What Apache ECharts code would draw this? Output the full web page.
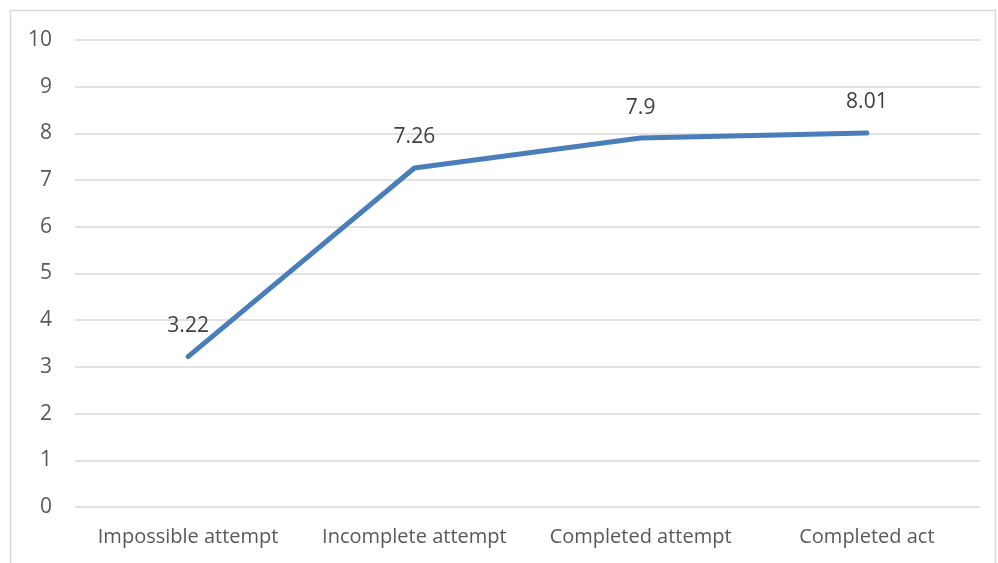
<!DOCTYPE html>
<html>
<head>
<meta charset="utf-8">
<script src="https://cdn.jsdelivr.net/npm/echarts@6/dist/echarts.min.js"></script>
<style>
  html, body { margin: 0; padding: 0; background: #fff; }
  #chart { width: 998px; height: 563px; }
</style>
</head>
<body>
<div id="chart"></div>
<script>
const categories = ['Impossible attempt', 'Incomplete attempt', 'Completed attempt', 'Completed act'];
const scores = [3.22, 7.26, 7.9, 8.01];
const yTicks = { min: 0, max: 10, interval: 1 };

const chart = echarts.init(document.getElementById('chart'));
const font = '"Open Sans", "Noto Sans", sans-serif';

chart.setOption({
  animation: false,
  graphic: [{
    type: 'rect',
    shape: { x: 10.5, y: 10.5, width: 985, height: 600 },
    style: { fill: 'none', stroke: '#d9d9d9', lineWidth: 1.5 },
    silent: true
  }],
  grid: { left: 75, right: 18, top: 40, bottom: 56 },
  xAxis: {
    type: 'category',
    data: categories,
    boundaryGap: true,
    axisLine: { show: false },
    axisTick: { show: false },
    axisLabel: { color: '#595959', fontFamily: font, fontSize: 20, margin: 20, interval: 0 }
  },
  yAxis: {
    type: 'value',
    min: yTicks.min,
    max: yTicks.max,
    interval: yTicks.interval,
    axisLine: { show: false },
    axisTick: { show: false },
    splitLine: { lineStyle: { color: '#d9d9d9', width: 1.5 } },
    axisLabel: { color: '#595959', fontFamily: font, fontSize: 21, margin: 23 }
  },
  series: [{
    type: 'line',
    data: scores,
    symbol: 'circle',
    symbolSize: 2,
    showSymbol: true,
    itemStyle: { color: '#4a7ebb', borderWidth: 0 },
    lineStyle: { color: '#4a7ebb', width: 5, cap: 'round', join: 'round' },
    label: {
      show: true,
      position: 'top',
      distance: 19,
      color: '#404040',
      fontFamily: font,
      fontSize: 21,
      formatter: p => String(p.value)
    }
  }]
});
</script>
</body>
</html>
